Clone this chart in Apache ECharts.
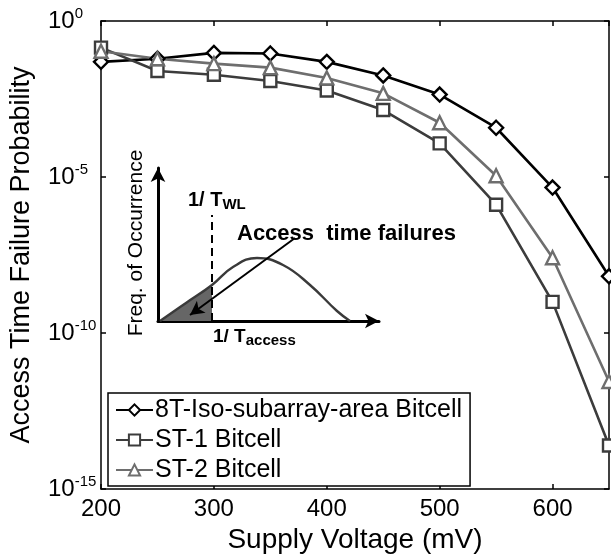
<!DOCTYPE html>
<html>
<head>
<meta charset="utf-8">
<script src="https://cdn.jsdelivr.net/npm/echarts@6/dist/echarts.min.js"></script>
<style>
html,body{margin:0;padding:0;background:#fff;}
#c{width:611px;height:559px;}
</style>
</head>
<body>
<div id="c"></div>
<script>
// ---- Data ----
const voltages = [200, 250, 300, 350, 400, 450, 500, 550, 600, 650];
const p8T  = [4.9e-2, 6.2e-2, 9.5e-2, 9.1e-2, 4.9e-2, 1.8e-2, 4.4e-3, 3.8e-4, 4.6e-6, 6.6e-9];
const pST1 = [1.4e-1, 2.5e-2, 1.9e-2, 1.2e-2, 5.9e-3, 1.4e-3, 1.2e-4, 1.3e-6, 1.0e-9, 2.5e-14];
const pST2 = [1.07e-1, 6.2e-2, 4.3e-2, 3.2e-2, 1.5e-2, 4.8e-3, 5.5e-4, 1.1e-5, 2.6e-8, 2.8e-12];
const seriesNames = ['8T-Iso-subarray-area Bitcell', 'ST-1 Bitcell', 'ST-2 Bitcell'];
const xTicks = [200, 300, 400, 500, 600];

// inset schematic (arbitrary units)
const insetCurveX = [2, 28, 54, 75, 99, 125, 152, 179, 192];
const insetCurveY = [0, 18, 36, 54, 63, 56, 36, 10, 0];
const insetFillX = [2, 28, 54];
const insetFillY = [0, 18, 36];
const insetThreshold = 54;
const insetThresholdTop = 106;
const insetArrowFrom = [137, 83];
const insetArrowTo = [32, 6];

const FONT = 'Liberation Sans, Arial, Helvetica, sans-serif';
const zip = (a, b) => a.map((v, i) => [v, b[i]]);

const chart = echarts.init(document.getElementById('c'), null, {renderer: 'canvas'});

const mainAxisLine = {lineStyle: {color: '#000', width: 1.5}};
const supLabel = {
  fontFamily: FONT, color: '#000', margin: 53, align: 'left',
  formatter: v => '{b|10}{s|' + Math.round(Math.log10(v)) + '}',
  rich: {
    b: {fontSize: 24, lineHeight: 30, fontFamily: FONT, color: '#000'},
    s: {fontSize: 15, lineHeight: 15, verticalAlign: 'top', fontFamily: FONT, color: '#000'}
  }
};

function mkSeries(name, data, symbol, size, color, lw) {
  return {
    name, type: 'line', xAxisIndex: 0, yAxisIndex: 0,
    data: zip(voltages, data),
    symbol, symbolSize: size, showSymbol: true,
    lineStyle: {color, width: lw},
    itemStyle: {color: '#fff', borderColor: color, borderWidth: 2.4},
    color: color,
    z: 3
  };
}

const option = {
  animation: false,
  backgroundColor: '#fff',
  textStyle: {fontFamily: FONT},
  grid: [
    {left: 98, top: 21, right: 2, bottom: 63},
    {left: 158, top: 168, width: 221, height: 153}
  ],
  legend: {
    data: seriesNames,
    orient: 'vertical',
    left: 108, top: 393,
    backgroundColor: '#fff',
    borderColor: '#000', borderWidth: 1.5, borderRadius: 0,
    padding: [4, 8, 3, 7],
    itemWidth: 37, itemHeight: 14, itemGap: 4,
    textStyle: {fontSize: 25, lineHeight: 26, color: '#000', fontFamily: FONT, padding: [0, 0, 0, -3]}
  },
  xAxis: [
    {
      type: 'value', gridIndex: 0, min: 200, max: 650, interval: 100, position: 'bottom',
      axisLine: Object.assign({onZero: false}, mainAxisLine),
      axisTick: {inside: true, length: 5, lineStyle: {color: '#000', width: 1.5}},
      axisLabel: {fontSize: 24, color: '#000', fontFamily: FONT, margin: 8, showMaxLabel: false,
                  formatter: v => xTicks.includes(v) ? String(v) : ''},
      splitLine: {show: false},
      name: 'Supply Voltage (mV)', nameLocation: 'middle', nameGap: 29,
      nameTextStyle: {fontSize: 28, color: '#000', fontFamily: FONT}
    },
    {
      type: 'value', gridIndex: 0, min: 200, max: 650, interval: 100, position: 'top',
      axisLine: Object.assign({onZero: false}, mainAxisLine),
      axisTick: {inside: true, length: 5, lineStyle: {color: '#000', width: 1.5}},
      axisLabel: {show: false}, splitLine: {show: false}
    },
    {
      type: 'value', gridIndex: 1, min: 0, max: 221,
      axisLine: {onZero: false, symbol: ['none', 'arrow'], symbolSize: [11, 14], lineStyle: {color: '#000', width: 3}},
      axisTick: {show: false}, axisLabel: {show: false}, splitLine: {show: false}
    }
  ],
  yAxis: [
    {
      type: 'log', logBase: 10, gridIndex: 0, min: 1e-15, max: 1, interval: 5, position: 'left',
      axisLine: Object.assign({onZero: false}, mainAxisLine),
      axisTick: {inside: true, length: 5, lineStyle: {color: '#000', width: 1.5}},
      minorTick: {show: false},
      axisLabel: supLabel,
      splitLine: {show: false},
      name: 'Access Time Failure Probability', nameLocation: 'middle', nameGap: 66,
      nameTextStyle: {fontSize: 27, color: '#000', fontFamily: FONT}
    },
    {
      type: 'log', logBase: 10, gridIndex: 0, min: 1e-15, max: 1, interval: 5, position: 'right',
      axisLine: Object.assign({onZero: false}, mainAxisLine),
      axisTick: {inside: true, length: 5, lineStyle: {color: '#000', width: 1.5}},
      axisLabel: {show: false}, splitLine: {show: false}
    },
    {
      type: 'value', gridIndex: 1, min: 0, max: 153,
      axisLine: {onZero: false, symbol: ['none', 'arrow'], symbolSize: [11, 14], lineStyle: {color: '#000', width: 3}},
      axisTick: {show: false}, axisLabel: {show: false}, splitLine: {show: false}
    }
  ],
  series: [
    mkSeries(seriesNames[0], p8T, 'diamond', 14, '#000000', 2.6),
    mkSeries(seriesNames[1], pST1, 'rect', 12, '#3c3c3c', 2.6),
    mkSeries(seriesNames[2], pST2, 'triangle', 13, '#6e6e6e', 2.6),
    {
      name: 'insetFill', type: 'line', xAxisIndex: 2, yAxisIndex: 2,
      data: zip(insetFillX, insetFillY), symbol: 'none',
      lineStyle: {width: 0}, areaStyle: {color: '#666666', opacity: 1}, z: 2
    },
    {
      name: 'insetCurve', type: 'line', xAxisIndex: 2, yAxisIndex: 2,
      data: zip(insetCurveX, insetCurveY), symbol: 'none', smooth: 0.45,
      lineStyle: {color: '#3a3a3a', width: 2.4}, z: 2,
      markLine: {
        silent: true, animation: false,
        label: {show: false},
        data: [
          [{coord: [insetThreshold, 0], symbol: 'none', lineStyle: {type: [8, 5], color: '#000', width: 2}},
           {coord: [insetThreshold, insetThresholdTop], symbol: 'none'}],
          [{coord: insetArrowFrom, symbol: 'none', lineStyle: {type: 'solid', color: '#000', width: 2}},
           {coord: insetArrowTo, symbol: 'arrow', symbolSize: [11, 14]}]
        ]
      }
    }
  ],
  graphic: [
    {
      type: 'text', left: 188, top: 190,
      style: {
        text: '{a|1/ T}{s|WL}', fontFamily: FONT,
        rich: {
          a: {fontSize: 20, fontWeight: 'bold', lineHeight: 25, fontFamily: FONT, fill: '#000'},
          s: {fontSize: 15, fontWeight: 'bold', lineHeight: 15, verticalAlign: 'bottom', fontFamily: FONT, fill: '#000'}
        }
      }
    },
    {
      type: 'text', left: 237, top: 223,
      style: {text: 'Access  time failures', fontSize: 22, fontWeight: 'bold', fontFamily: FONT, fill: '#000'}
    },
    {
      type: 'text', left: 213, top: 327,
      style: {
        text: '{a|1/ T}{s|access}', fontFamily: FONT,
        rich: {
          a: {fontSize: 19, fontWeight: 'bold', lineHeight: 24, fontFamily: FONT, fill: '#000'},
          s: {fontSize: 15, fontWeight: 'bold', lineHeight: 15, verticalAlign: 'bottom', fontFamily: FONT, fill: '#000'}
        }
      }
    },
    {
      type: 'text', x: 136, y: 243, rotation: Math.PI / 2,
      style: {text: 'Freq. of Occurrence', fontSize: 21, fontFamily: FONT, fill: '#000',
              align: 'center', verticalAlign: 'middle'}
    }
  ]
};

chart.setOption(option);
</script>
</body>
</html>
